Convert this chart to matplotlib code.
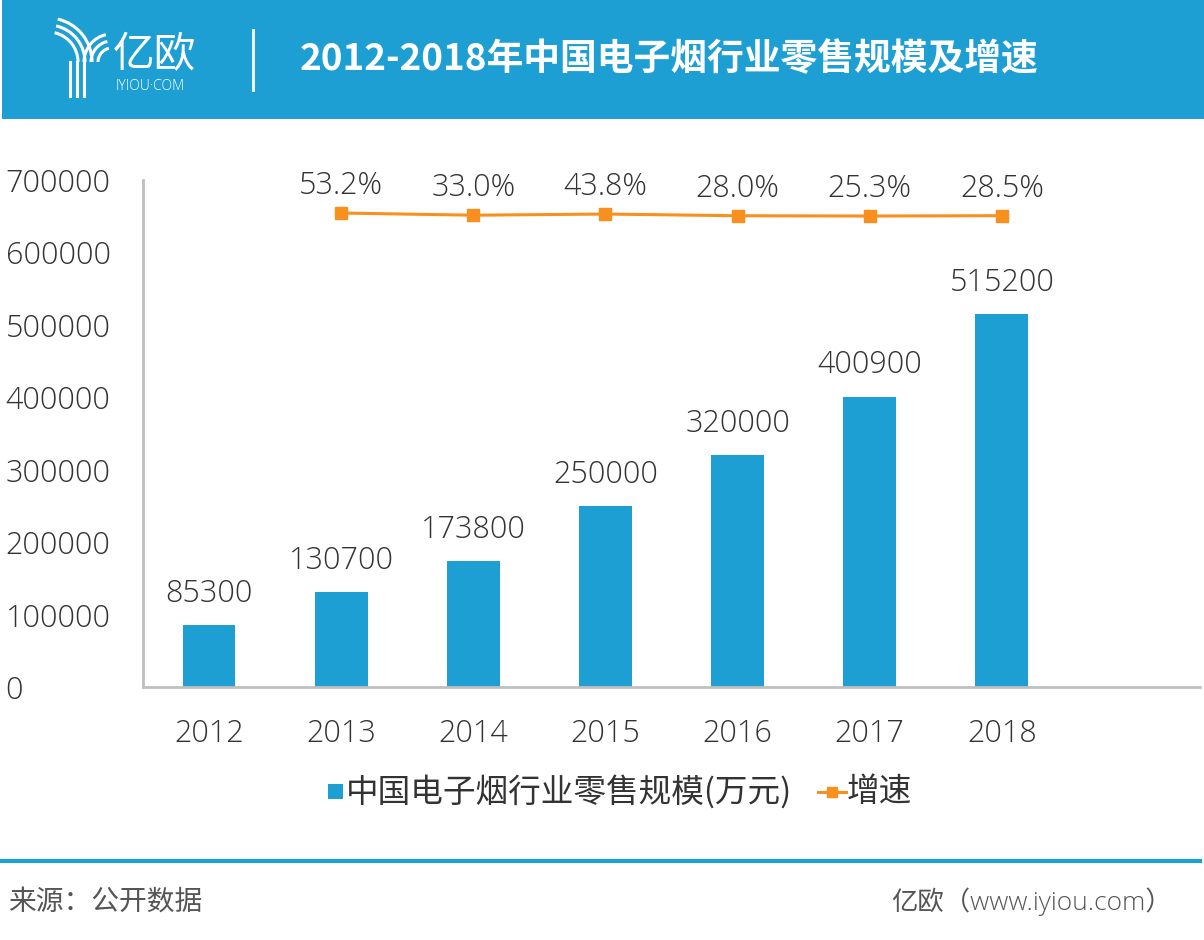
import matplotlib
matplotlib.use("Agg")
import matplotlib.pyplot as plt
from matplotlib.patches import Rectangle, Arc
from matplotlib.lines import Line2D

plt.rcParams['font.family'] = ['Open Sans', 'Noto Sans CJK SC', 'DejaVu Sans']
plt.rcParams['font.weight'] = 'light'

years = ['2012', '2013', '2014', '2015', '2016', '2017', '2018']
retail = [85300, 130700, 173800, 250000, 320000, 400900, 515200]
growth = [None, 53.2, 33.0, 43.8, 28.0, 25.3, 28.5]
yticks = [0, 100000, 200000, 300000, 400000, 500000, 600000, 700000]

BLUE = '#1E9FD3'
ORANGE = '#F7901E'
TEXT = '#333333'
W, H = 1204, 940

fig = plt.figure(figsize=(W / 100, H / 100), dpi=100)
fig.patch.set_facecolor('white')

# header band
fig.patches.append(Rectangle((2 / W, 1 - 119 / H), 1, 119 / H, transform=fig.transFigure,
                             facecolor=BLUE, edgecolor='none', zorder=0))
# logo (rough sketch of the Y mark)
for dx in [0, 7, 14]:
    x0 = (70 + dx) / W
    fig.add_artist(Line2D([x0, x0], [1 - 96 / H, 1 - 62 / H], transform=fig.transFigure,
                          color='white', lw=2.2))
for r in [8, 15, 22]:
    fig.add_artist(Arc((48 / W, 1 - 62 / H), 2 * (22 + r) / W, 2 * (22 + r) / H,
                       theta1=0, theta2=80, transform=fig.transFigure, color='white', lw=2.2))
    fig.add_artist(Arc((112 / W, 1 - 62 / H), 2 * (36 - r) / W, 2 * (36 - r) / H,
                       theta1=100, theta2=180, transform=fig.transFigure, color='white', lw=2.2))
fig.text(113 / W, 1 - 56 / H, '亿欧', color='white', fontsize=30, va='center', ha='left',
         family=['Noto Sans CJK SC'])
fig.text(116 / W, 1 - 86 / H, 'IYIOU·COM', color='white', fontsize=10, va='center', ha='left')
fig.add_artist(Line2D([253 / W, 253 / W], [1 - 90 / H, 1 - 30 / H], transform=fig.transFigure,
                      color='white', lw=2))
fig.text(300 / W, 1 - 60 / H, '2012-2018年中国电子烟行业零售规模及增速', color='white',
         fontsize=26.5, fontweight='bold', va='center', ha='left',
         family=['Noto Sans CJK SC', 'DejaVu Sans'])

# main axes
ax = fig.add_axes([143 / W, (H - 687) / H, (1200 - 143) / W, (687 - 180) / H])
x = list(range(len(years)))
ax.bar(x, retail, width=0.4, color=BLUE, zorder=2)
ax.set_xlim(-0.5, 7.5)
ax.set_ylim(0, 700000)
ax.set_yticks(yticks)
ax.set_yticklabels([str(v) for v in yticks])
ax.set_xticks(x)
ax.set_xticklabels(years)
ax.tick_params(axis='both', length=0, labelsize=22, colors=TEXT)
ax.tick_params(axis='x', pad=22)
for lab in ax.get_yticklabels():
    lab.set_horizontalalignment('left')
ax.yaxis.set_tick_params(pad=99)
for s in ['top', 'right']:
    ax.spines[s].set_visible(False)
for s in ['left', 'bottom']:
    ax.spines[s].set_color('#BFBFBF')
    ax.spines[s].set_linewidth(2)
for xi, v in zip(x, retail):
    ax.annotate(str(v), (xi, v), xytext=(0, 11), textcoords='offset points',
                ha='center', va='bottom', fontsize=22, color=TEXT)

# growth line on hidden secondary axis
ax2 = ax.twinx()
ax2.set_ylim(-4350, 360)
ax2.axis('off')
gx = [xi for xi, g in zip(x, growth) if g is not None]
gy = [g for g in growth if g is not None]
ax2.plot(gx, gy, color=ORANGE, lw=2.2, marker='s', markersize=8, zorder=3)
for xi, g in zip(gx, gy):
    ax2.annotate(f'{g:.1f}%', (xi, g), xytext=(0, 8), textcoords='offset points',
                 ha='center', va='bottom', fontsize=22, color=TEXT)

# legend
fig.patches.append(Rectangle((328 / W, 1 - 799 / H), 15 / W, 15 / H, transform=fig.transFigure,
                             facecolor=BLUE, edgecolor='none'))
fig.text(346 / W, 1 - 792 / H, '中国电子烟行业零售规模(万元)', fontsize=23.5, color=TEXT,
         va='center', ha='left', family=['Noto Sans CJK SC'])
fig.add_artist(Line2D([818 / W, 846 / W], [1 - 792 / H, 1 - 792 / H], transform=fig.transFigure,
                      color=ORANGE, lw=2.2))
fig.add_artist(Line2D([832 / W], [1 - 792 / H], transform=fig.transFigure, color=ORANGE,
                      marker='s', markersize=7))
fig.text(847 / W, 1 - 792 / H, '增速', fontsize=23.5, color=TEXT, va='center', ha='left',
         family=['Noto Sans CJK SC'])

# footer
fig.add_artist(Line2D([2 / W, 1200 / W], [1 - 861 / H, 1 - 861 / H], transform=fig.transFigure,
                      color=BLUE, lw=3))
fig.text(8 / W, 1 - 902 / H, '来源：公开数据', fontsize=20, color='#555555', va='center',
         ha='left', family=['Noto Sans CJK SC'])
fig.text(1172 / W, 1 - 902 / H, '亿欧（www.iyiou.com）', fontsize=19, color='#555555',
         va='center', ha='right', family=['Open Sans', 'Noto Sans CJK SC'])

fig.savefig('out.png', dpi=100, facecolor='white')
